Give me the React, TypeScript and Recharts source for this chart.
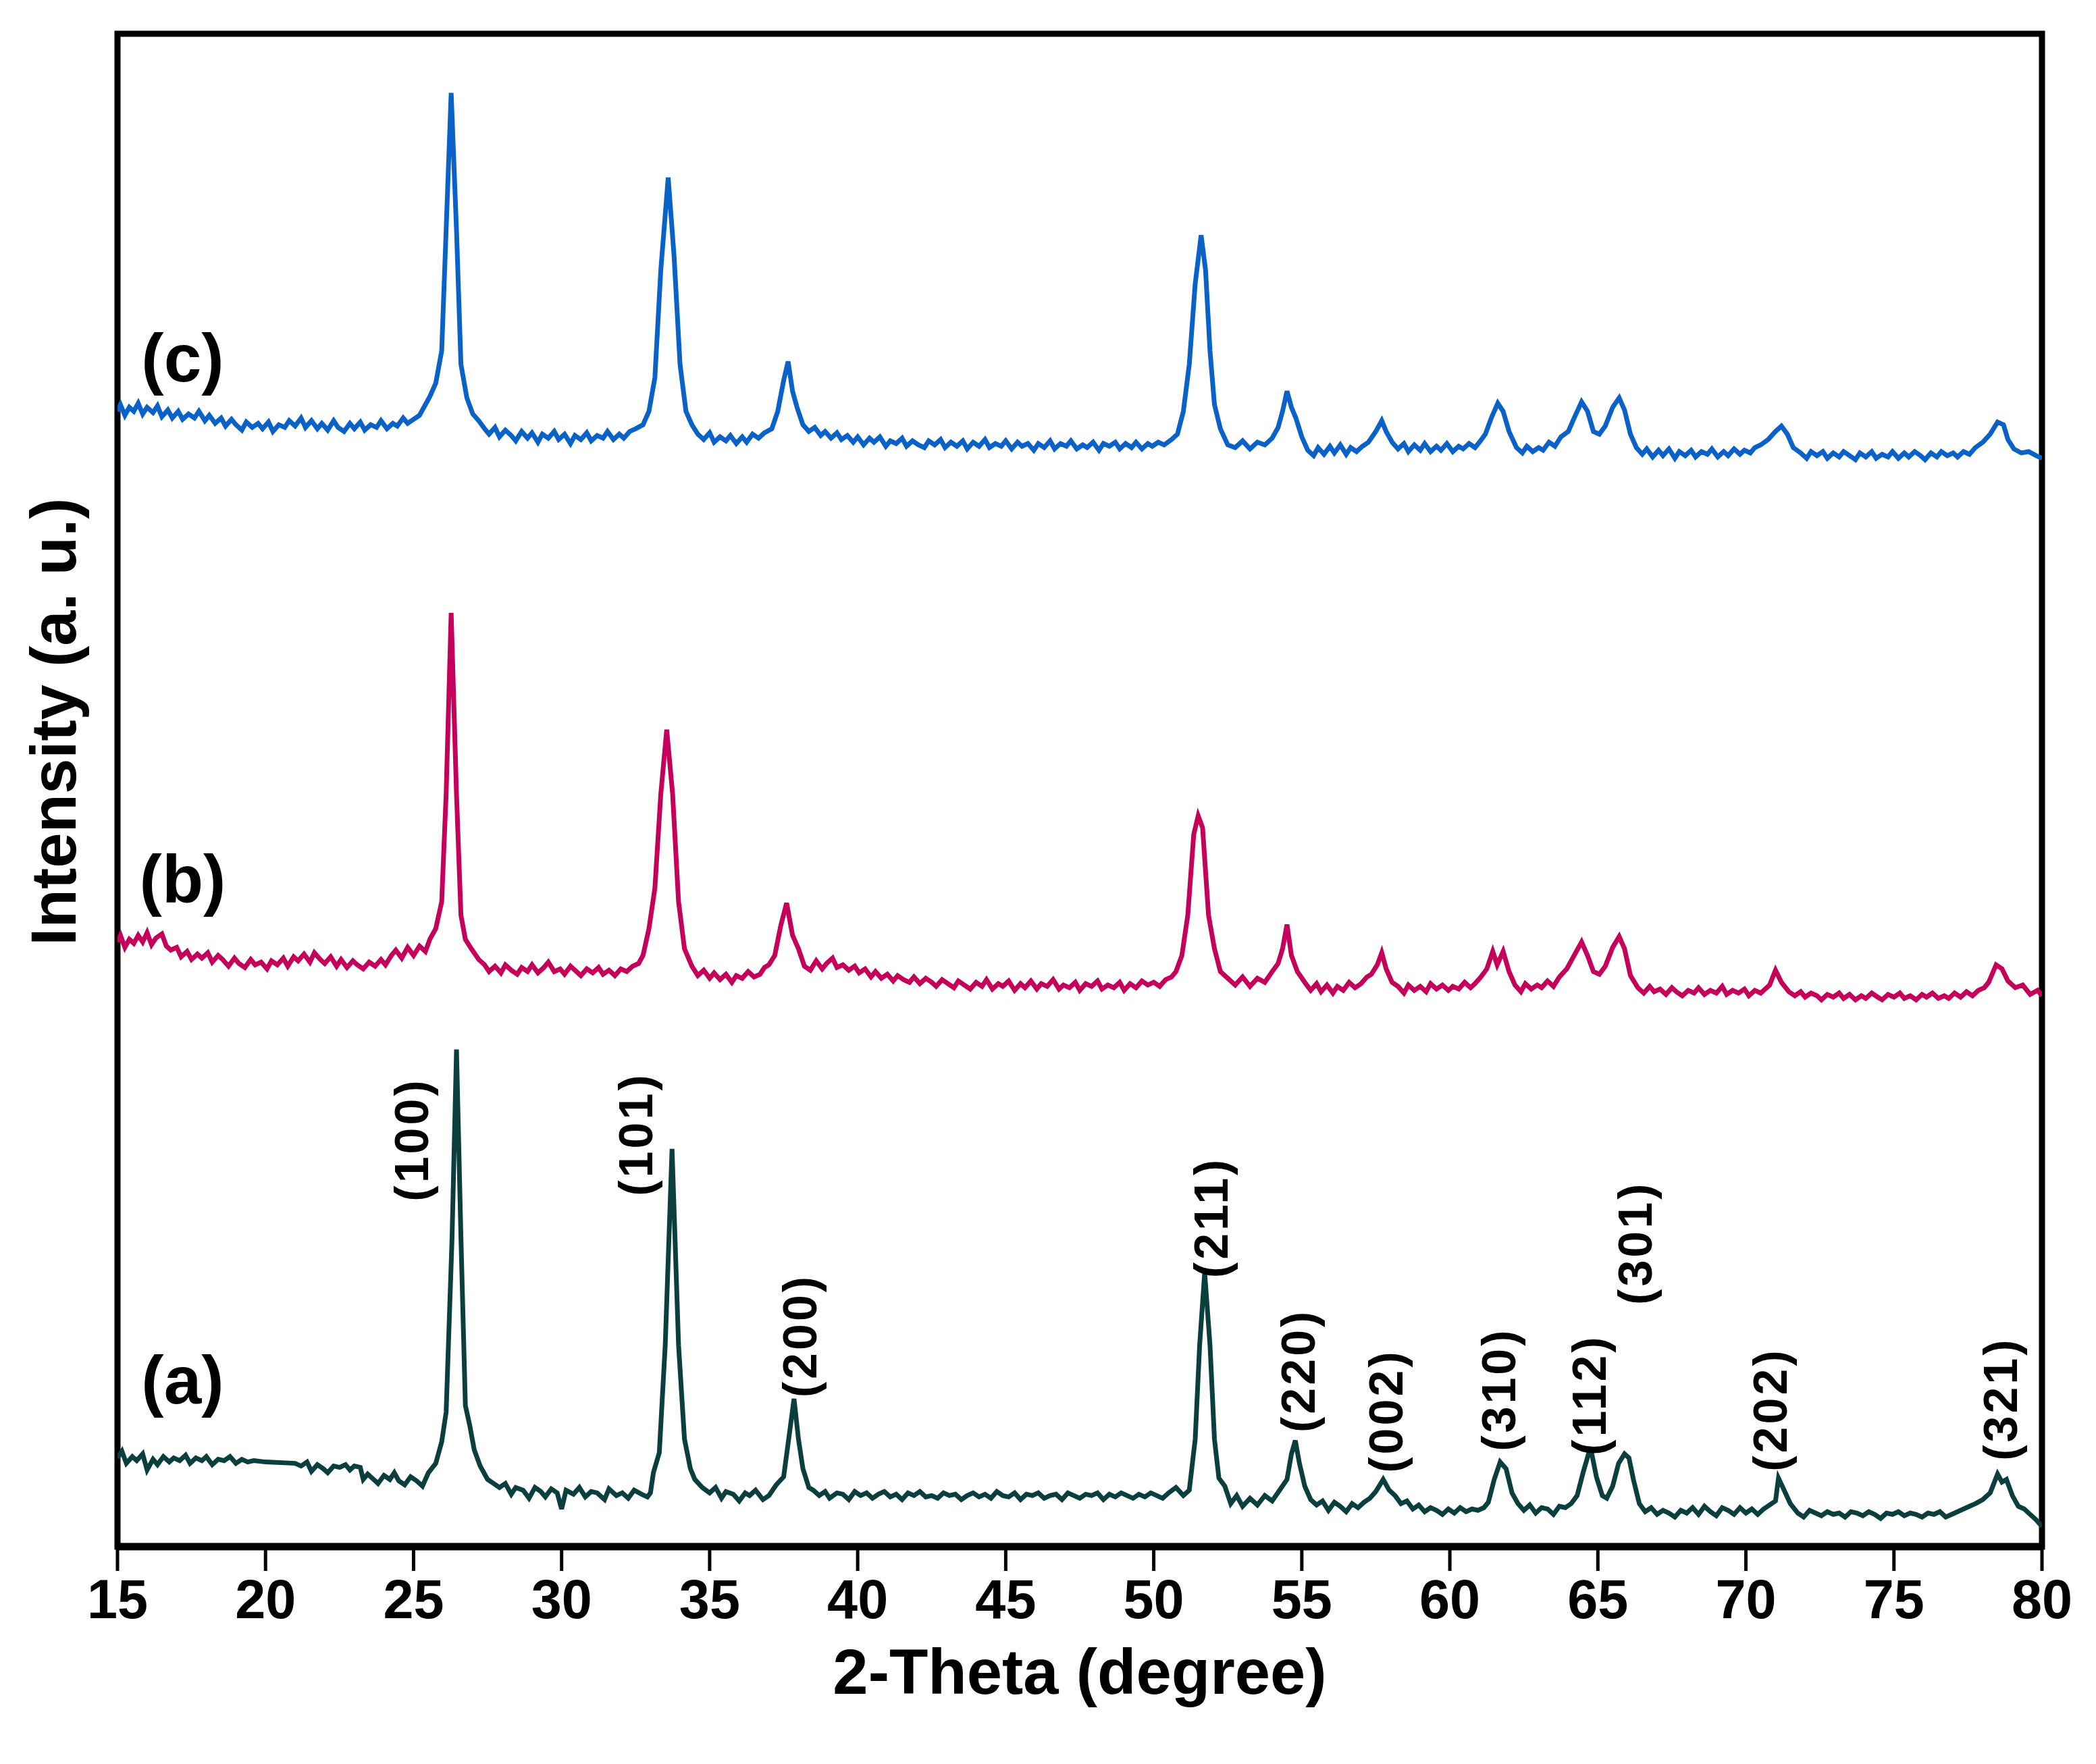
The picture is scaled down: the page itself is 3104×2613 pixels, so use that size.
import React from 'react'
import { LineChart, Line, XAxis, YAxis, ReferenceArea, ReferenceDot } from 'recharts'

// 2-theta ticks on the bottom axis
const TICKS = [15, 20, 25, 30, 35, 40, 45, 50, 55, 60, 65, 70, 75, 80]

// intensity (a. u.), offsets already included: [2-theta, intensity]
const SERIES_A: [number, number][] = [
  [15.0, 66], [15.15, 71], [15.3, 62], [15.5, 67], [15.65, 64], [15.85, 69], [16.0, 57], [16.2, 65], [16.35, 61], [16.55, 67], [16.75, 63], [16.9, 66], [17.1, 64], [17.3, 68], [17.45, 62], [17.65, 66], [17.85, 64], [18.0, 67], [18.2, 61], [18.4, 65], [18.6, 64], [18.8, 67], [19.0, 62], [19.2, 65], [19.4, 63], [19.6, 64],
  [20.0, 63], [21.0, 62], [21.2, 60], [21.4, 63], [21.55, 56], [21.75, 61], [21.95, 58], [22.1, 55], [22.3, 60], [22.5, 59], [22.7, 61], [22.85, 57], [23.0, 60], [23.2, 59], [23.3, 50], [23.45, 54], [23.6, 51], [23.8, 47], [24.0, 53], [24.2, 50], [24.35, 55], [24.5, 49], [24.7, 46], [24.9, 52], [25.1, 49], [25.3, 45],
  [25.5, 55], [25.75, 62], [25.95, 78], [26.1, 100], [26.3, 230], [26.45, 370], [26.6, 230], [26.75, 105], [26.9, 90], [27.05, 72], [27.25, 60], [27.5, 50], [27.7, 47], [27.9, 44], [28.1, 47], [28.3, 39], [28.45, 44], [28.7, 42], [28.9, 36], [29.1, 44], [29.3, 41], [29.45, 37], [29.65, 43], [29.85, 40],
  [30.0, 28], [30.15, 42], [30.4, 39], [30.6, 44], [30.8, 37], [31.0, 41], [31.2, 40], [31.45, 35], [31.6, 43], [31.85, 38], [32.05, 40], [32.25, 36], [32.45, 42], [32.7, 39], [32.9, 37], [33.0, 40], [33.1, 55], [33.3, 70], [33.5, 150], [33.73, 296], [33.95, 150], [34.15, 80], [34.35, 58], [34.5, 50], [34.75, 44],
  [35.0, 40], [35.2, 44], [35.4, 36], [35.55, 41], [35.8, 39], [36.0, 34], [36.2, 40], [36.35, 38], [36.55, 42], [36.8, 35], [37.0, 38], [37.25, 46], [37.5, 52], [37.7, 85], [37.85, 110], [38.0, 80], [38.15, 58], [38.35, 44], [38.5, 42], [38.7, 38], [38.9, 41], [39.05, 36], [39.3, 40], [39.5, 39], [39.7, 35], [39.9, 41],
  [40.1, 38], [40.3, 40], [40.5, 36], [40.7, 39], [40.9, 41], [41.1, 37], [41.3, 39], [41.5, 35], [41.7, 40], [41.9, 38], [42.1, 41], [42.3, 37], [42.5, 38], [42.7, 36], [42.9, 40], [43.1, 38], [43.3, 39], [43.5, 35], [43.7, 38], [43.9, 40], [44.1, 37], [44.3, 39], [44.5, 36], [44.7, 41], [44.9, 38],
  [45.1, 37], [45.3, 40], [45.5, 35], [45.7, 39], [45.9, 38], [46.1, 40], [46.3, 36], [46.5, 38], [46.7, 39], [46.9, 35], [47.1, 40], [47.3, 38], [47.5, 36], [47.7, 39], [47.9, 38], [48.1, 40], [48.3, 35], [48.5, 39], [48.7, 37], [48.9, 40], [49.1, 38], [49.3, 36], [49.5, 39], [49.7, 37], [49.9, 40],
  [50.1, 38], [50.3, 36], [50.5, 40], [50.75, 44], [51.0, 38], [51.2, 42], [51.4, 80], [51.55, 150], [51.72, 204], [51.9, 150], [52.05, 80], [52.2, 51], [52.4, 45], [52.6, 32], [52.8, 38], [53.0, 30], [53.25, 36], [53.5, 31], [53.75, 38], [54.0, 34], [54.25, 42], [54.5, 50], [54.65, 69], [54.78, 79], [54.92, 62],
  [55.1, 45], [55.3, 35], [55.5, 31], [55.7, 34], [55.9, 27], [56.1, 33], [56.3, 30], [56.5, 26], [56.7, 32], [56.9, 29], [57.1, 33], [57.3, 36], [57.5, 41], [57.75, 50], [57.95, 42], [58.15, 38], [58.35, 32], [58.55, 34], [58.75, 28], [58.95, 31], [59.15, 26], [59.35, 29], [59.55, 27], [59.75, 24], [59.95, 28],
  [60.15, 25], [60.35, 29], [60.55, 26], [60.75, 28], [60.95, 27], [61.15, 29], [61.3, 33], [61.5, 50], [61.7, 63], [61.9, 58], [62.1, 40], [62.3, 32], [62.5, 27], [62.7, 31], [62.9, 25], [63.1, 29], [63.3, 28], [63.5, 24], [63.7, 30], [63.9, 29], [64.1, 32], [64.3, 38], [64.5, 55], [64.75, 74], [64.95, 52],
  [65.15, 38], [65.3, 36], [65.5, 45], [65.7, 62], [65.9, 69], [66.05, 66], [66.2, 50], [66.4, 32], [66.6, 26], [66.8, 29], [67.0, 24], [67.2, 27], [67.4, 25], [67.6, 22], [67.8, 27], [68.0, 25], [68.2, 29], [68.4, 24], [68.6, 30], [68.8, 26], [69.0, 23], [69.2, 29], [69.4, 27], [69.6, 24], [69.8, 29],
  [70.0, 25], [70.2, 28], [70.4, 24], [70.6, 28], [70.8, 31], [71.0, 34], [71.1, 51], [71.25, 44], [71.5, 32], [71.75, 25], [71.95, 22], [72.15, 27], [72.35, 25], [72.55, 23], [72.75, 26], [72.95, 24], [73.15, 25], [73.35, 22], [73.55, 26], [73.75, 25], [73.95, 23], [74.15, 26], [74.35, 24], [74.55, 21], [74.75, 25],
  [74.95, 24], [75.15, 26], [75.35, 23], [75.55, 25], [75.75, 24], [75.95, 22], [76.15, 25], [76.35, 24], [76.55, 26], [76.75, 22], [76.95, 24], [77.15, 26], [77.35, 28], [77.55, 30], [77.75, 32], [78.0, 35], [78.25, 40], [78.5, 54], [78.65, 48], [78.8, 50], [79.0, 38], [79.2, 30], [79.4, 28], [79.6, 24], [79.8, 20], [80.0, 15],
]

const SERIES_B: [number, number][] = [
  [15.0, 450], [15.1, 455], [15.25, 446], [15.4, 452], [15.55, 449], [15.7, 455], [15.85, 450], [16.0, 457], [16.15, 448], [16.3, 453], [16.5, 456], [16.65, 447], [16.8, 444], [17.0, 446], [17.15, 439], [17.35, 443], [17.5, 437], [17.7, 441], [17.85, 438], [18.05, 442], [18.2, 435], [18.4, 440], [18.55, 437], [18.75, 432], [18.95, 438],
  [19.1, 434], [19.3, 431], [19.5, 437], [19.65, 433], [19.85, 435], [20.05, 430], [20.2, 436], [20.4, 433], [20.6, 438], [20.75, 432], [20.95, 439], [21.1, 436], [21.3, 441], [21.5, 435], [21.65, 442], [21.85, 437], [22.0, 434], [22.2, 439], [22.4, 432], [22.55, 437], [22.75, 431], [22.95, 436], [23.1, 433], [23.3, 430],
  [23.5, 435], [23.7, 432], [23.9, 437], [24.05, 433], [24.25, 440], [24.4, 444], [24.6, 438], [24.8, 446], [25.0, 440], [25.2, 447], [25.4, 443], [25.55, 452], [25.75, 460], [25.95, 480], [26.1, 560], [26.27, 695], [26.45, 560], [26.6, 470], [26.75, 452], [26.95, 445],
  [27.2, 437], [27.4, 433], [27.55, 428], [27.75, 432], [27.95, 427], [28.1, 433], [28.3, 429], [28.5, 426], [28.65, 431], [28.85, 428], [29.0, 433], [29.2, 427], [29.4, 431], [29.55, 435], [29.75, 428], [29.95, 430], [30.1, 426], [30.3, 432], [30.5, 428], [30.65, 425], [30.85, 430], [31.05, 427], [31.25, 431], [31.4, 426],
  [31.6, 429], [31.8, 425], [32.0, 430], [32.2, 428], [32.4, 432], [32.6, 434], [32.75, 440], [32.95, 460], [33.15, 490], [33.35, 560], [33.55, 608], [33.75, 560], [33.95, 480], [34.15, 445], [34.4, 432], [34.6, 425], [34.8, 429], [35.0, 423], [35.15, 427], [35.35, 422], [35.55, 426], [35.75, 420], [35.9, 425],
  [36.1, 423], [36.3, 428], [36.5, 424], [36.7, 426], [36.85, 431], [37.0, 433], [37.2, 440], [37.4, 462], [37.6, 479], [37.8, 455], [38.0, 445], [38.2, 432], [38.4, 429], [38.6, 436], [38.8, 430], [38.95, 434], [39.15, 438], [39.3, 431], [39.5, 433], [39.7, 429], [39.9, 432],
  [40.05, 427], [40.25, 430], [40.45, 424], [40.6, 428], [40.8, 423], [41.0, 426], [41.2, 421], [41.35, 425], [41.55, 422], [41.75, 420], [41.9, 424], [42.1, 419], [42.3, 423], [42.5, 420], [42.65, 417], [42.85, 422], [43.05, 419], [43.25, 416], [43.4, 421], [43.6, 418], [43.8, 415], [44.0, 420], [44.2, 417], [44.35, 422], [44.55, 415], [44.75, 419], [44.9, 417],
  [45.1, 421], [45.3, 414], [45.5, 419], [45.65, 416], [45.85, 421], [46.05, 415], [46.2, 419], [46.4, 417], [46.6, 422], [46.8, 415], [46.95, 418], [47.15, 416], [47.35, 420], [47.5, 414], [47.7, 419], [47.9, 417], [48.1, 421], [48.25, 415], [48.45, 418], [48.65, 416], [48.85, 420], [49.0, 414], [49.2, 419], [49.4, 416], [49.6, 421], [49.8, 418],
  [50.0, 420], [50.2, 417], [50.4, 422], [50.6, 424], [50.75, 428], [50.95, 440], [51.15, 470], [51.35, 530], [51.5, 544], [51.65, 535], [51.85, 470], [52.05, 445], [52.25, 428], [52.5, 423], [52.75, 418], [53.0, 424], [53.25, 417], [53.5, 423], [53.75, 420], [54.0, 428], [54.2, 434], [54.35, 445], [54.5, 463], [54.65, 440], [54.85, 428],
  [55.1, 420], [55.3, 414], [55.5, 419], [55.65, 413], [55.85, 418], [56.05, 412], [56.2, 417], [56.4, 414], [56.6, 420], [56.8, 416], [57.0, 419], [57.2, 424], [57.35, 426], [57.55, 433], [57.7, 442], [57.85, 430], [58.05, 420], [58.25, 417], [58.45, 412], [58.6, 418], [58.8, 414], [59.0, 417], [59.2, 413], [59.35, 419], [59.55, 415], [59.75, 418], [59.95, 414],
  [60.1, 417], [60.3, 415], [60.5, 420], [60.7, 416], [60.85, 419], [61.05, 424], [61.25, 430], [61.45, 443], [61.6, 433], [61.8, 443], [62.0, 428], [62.2, 418], [62.4, 413], [62.55, 419], [62.75, 415], [62.95, 418], [63.1, 416], [63.3, 421], [63.5, 417], [63.7, 424], [63.95, 430], [64.2, 440], [64.45, 450], [64.65, 440], [64.85, 428],
  [65.05, 426], [65.25, 432], [65.5, 446], [65.72, 454], [65.9, 445], [66.1, 425], [66.35, 416], [66.55, 412], [66.75, 417], [66.9, 413], [67.1, 415], [67.3, 411], [67.5, 416], [67.65, 413], [67.85, 410], [68.05, 414], [68.25, 412], [68.4, 416], [68.6, 411], [68.8, 414], [69.0, 412], [69.2, 417], [69.35, 411], [69.55, 414], [69.75, 412], [69.95, 415],
  [70.1, 410], [70.3, 414], [70.5, 412], [70.65, 415], [70.8, 418], [71.0, 429], [71.2, 420], [71.45, 413], [71.65, 410], [71.85, 413], [72.0, 409], [72.2, 412], [72.4, 410], [72.55, 407], [72.75, 411], [72.95, 409], [73.15, 412], [73.3, 408], [73.5, 411], [73.7, 407], [73.9, 410], [74.05, 408], [74.25, 412], [74.45, 409], [74.6, 407], [74.8, 411],
  [75.0, 409], [75.2, 412], [75.35, 408], [75.55, 410], [75.75, 407], [75.95, 411], [76.1, 409], [76.3, 412], [76.5, 408], [76.7, 410], [76.85, 408], [77.05, 412], [77.25, 409], [77.45, 413], [77.65, 410], [77.85, 414], [78.05, 416], [78.2, 420], [78.45, 433], [78.65, 430], [78.85, 421], [79.1, 416], [79.35, 418], [79.6, 411], [79.85, 414], [80.0, 410],
]

const SERIES_C: [number, number][] = [
  [15.0, 845], [15.1, 850], [15.25, 842], [15.4, 848], [15.55, 845], [15.7, 851], [15.85, 843], [16.0, 848], [16.2, 844], [16.35, 849], [16.5, 841], [16.7, 846], [16.85, 840], [17.05, 845], [17.2, 839], [17.4, 843], [17.6, 840], [17.75, 845], [17.95, 838], [18.1, 842], [18.3, 836], [18.5, 840], [18.65, 834], [18.85, 839], [19.0, 835],
  [19.2, 831], [19.35, 837], [19.55, 833], [19.75, 836], [19.9, 832], [20.1, 837], [20.25, 830], [20.45, 835], [20.65, 833], [20.8, 838], [21.0, 834], [21.2, 840], [21.35, 833], [21.55, 838], [21.75, 832], [21.9, 836], [22.1, 831], [22.3, 838], [22.45, 833], [22.65, 830], [22.85, 836], [23.0, 832], [23.2, 837], [23.35, 831],
  [23.55, 835], [23.75, 833], [23.9, 838], [24.1, 832], [24.3, 836], [24.45, 834], [24.65, 840], [24.8, 836], [25.0, 839], [25.2, 842], [25.4, 850], [25.55, 856], [25.75, 866], [25.95, 890], [26.1, 980], [26.27, 1082], [26.45, 980], [26.6, 880], [26.8, 855], [27.0, 843],
  [27.2, 838], [27.4, 832], [27.55, 828], [27.75, 833], [27.9, 826], [28.1, 831], [28.3, 827], [28.45, 823], [28.65, 830], [28.85, 825], [29.0, 829], [29.2, 822], [29.35, 828], [29.55, 825], [29.75, 830], [29.9, 824], [30.1, 828], [30.3, 821], [30.45, 827], [30.65, 824], [30.85, 829], [31.0, 823], [31.2, 827], [31.4, 825],
  [31.55, 830], [31.75, 824], [31.95, 828], [32.1, 825], [32.3, 830], [32.5, 832], [32.75, 835], [32.95, 845], [33.15, 870], [33.35, 950], [33.6, 1019], [33.8, 960], [34.0, 880], [34.2, 845], [34.4, 835], [34.6, 828], [34.8, 824], [35.0, 829], [35.15, 822], [35.35, 826], [35.55, 823], [35.7, 827], [35.9, 821],
  [36.1, 826], [36.25, 822], [36.45, 828], [36.65, 825], [36.85, 829], [37.1, 832], [37.3, 845], [37.5, 868], [37.65, 882], [37.8, 860], [37.95, 848], [38.15, 835], [38.35, 830], [38.55, 833], [38.75, 827], [38.9, 830], [39.1, 825], [39.3, 829], [39.45, 824], [39.65, 827], [39.85, 822],
  [40.0, 826], [40.2, 820], [40.4, 825], [40.55, 822], [40.75, 826], [40.95, 819], [41.1, 823], [41.3, 821], [41.5, 825], [41.65, 819], [41.85, 823], [42.05, 820], [42.25, 818], [42.4, 823], [42.6, 820], [42.8, 824], [42.95, 818], [43.15, 822], [43.35, 819], [43.55, 823], [43.7, 817], [43.9, 822], [44.1, 819], [44.3, 824], [44.45, 818], [44.65, 821], [44.85, 819],
  [45.0, 823], [45.2, 817], [45.4, 822], [45.55, 819], [45.75, 821], [45.95, 816], [46.1, 821], [46.3, 818], [46.5, 823], [46.65, 817], [46.85, 821], [47.05, 819], [47.2, 823], [47.4, 817], [47.6, 820], [47.75, 818], [47.95, 822], [48.15, 816], [48.3, 821], [48.5, 819], [48.7, 822], [48.85, 817], [49.05, 821], [49.25, 818], [49.4, 822], [49.6, 817], [49.8, 821], [49.95, 819],
  [50.15, 822], [50.35, 820], [50.6, 824], [50.8, 828], [51.0, 845], [51.2, 880], [51.4, 940], [51.6, 976], [51.75, 950], [51.9, 890], [52.05, 850], [52.25, 832], [52.5, 820], [52.75, 818], [53.0, 823], [53.25, 817], [53.5, 822], [53.75, 820], [54.0, 825], [54.2, 833], [54.35, 845], [54.5, 860], [54.65, 848], [54.8, 840],
  [55.0, 826], [55.2, 816], [55.4, 812], [55.55, 818], [55.75, 813], [55.95, 819], [56.1, 814], [56.3, 820], [56.5, 813], [56.65, 818], [56.85, 815], [57.05, 819], [57.25, 822], [57.5, 830], [57.7, 838], [57.85, 830], [58.05, 822], [58.25, 817], [58.45, 821], [58.6, 815], [58.8, 820], [59.0, 816], [59.15, 821], [59.35, 815], [59.55, 819], [59.7, 816], [59.9, 821],
  [60.1, 815], [60.3, 819], [60.45, 817], [60.65, 821], [60.85, 818], [61.0, 822], [61.2, 828], [61.4, 840], [61.62, 851], [61.8, 845], [62.0, 830], [62.25, 818], [62.45, 814], [62.6, 819], [62.8, 815], [63.0, 818], [63.15, 816], [63.35, 822], [63.55, 819], [63.75, 826], [64.0, 830], [64.2, 840], [64.45, 852], [64.65, 845], [64.85, 830],
  [65.05, 828], [65.25, 834], [65.5, 848], [65.72, 855], [65.9, 846], [66.1, 828], [66.3, 818], [66.5, 813], [66.65, 817], [66.85, 811], [67.05, 816], [67.2, 812], [67.4, 817], [67.6, 810], [67.75, 815], [67.95, 812], [68.15, 816], [68.3, 811], [68.5, 815], [68.7, 813], [68.85, 817], [69.05, 811], [69.25, 815], [69.4, 812], [69.6, 817], [69.8, 813], [69.95, 816],
  [70.15, 814], [70.3, 818], [70.5, 820], [70.75, 824], [71.0, 830], [71.2, 834], [71.4, 828], [71.6, 818], [71.85, 814], [72.05, 810], [72.2, 815], [72.4, 812], [72.6, 815], [72.75, 810], [72.95, 814], [73.15, 811], [73.3, 815], [73.5, 812], [73.7, 809], [73.85, 814], [74.05, 811], [74.25, 815], [74.4, 810], [74.6, 813], [74.8, 811], [74.95, 815],
  [75.15, 810], [75.35, 814], [75.5, 811], [75.7, 815], [75.9, 812], [76.05, 809], [76.25, 814], [76.45, 811], [76.6, 815], [76.8, 812], [77.0, 814], [77.15, 811], [77.35, 815], [77.55, 813], [77.75, 818], [78.0, 822], [78.25, 828], [78.5, 837], [78.7, 835], [78.85, 824], [79.05, 817], [79.3, 814], [79.55, 815], [79.8, 812], [80.0, 810],
]

// (hkl) labels: [text, 2-theta, intensity]
const HKL: [string, number, number][] = [
  ['(100)', 24.95, 303],
  ['(101)', 32.51, 307],
  ['(200)', 38.06, 157],
  ['(211)', 51.94, 245],
  ['(220)', 54.89, 131],
  ['(002)', 57.86, 101],
  ['(310)', 61.67, 117],
  ['(112)', 64.73, 113],
  ['(301)', 66.28, 226],
  ['(202)', 70.84, 102],
  ['(321)', 78.61, 110],
]

// sample labels: [text, 2-theta, intensity]
const SAMPLES: [string, number, number][] = [
  ['(c)', 17.2, 885],
  ['(b)', 17.2, 497],
  ['(a)', 17.2, 124],
]

const COLORS = { a: '#0b3f3e', b: '#c4005a', c: '#0a62c8' }

const FONT = '"Liberation Sans", Arial, sans-serif'

const toPoints = (s: [number, number][]) => s.map(([x, y]) => ({ x, y }))

export default function App() {
  return (
    <div style={{ position: 'absolute', left: 0, top: 0, width: 3104, height: 2613, background: '#fff' }}>
      <LineChart width={3104} height={2613} margin={{ top: 50, right: 80, bottom: 212, left: 174 }}>
        <XAxis
          dataKey="x"
          type="number"
          domain={[15, 80]}
          ticks={TICKS}
          allowDataOverflow
          height={110}
          axisLine={{ stroke: '#000', strokeWidth: 11 }}
          tickLine={{ stroke: '#000', strokeWidth: 5 }}
          tickSize={36}
          tickMargin={12}
          tick={{ fontSize: 81, fontWeight: 700, fill: '#000', fontFamily: FONT }}
        />
        <YAxis type="number" domain={[0, 1126]} width={0} tick={false} tickLine={false} axisLine={false} />
        <ReferenceArea x1={15} x2={80} y1={0} y2={1126} fill="none" stroke="#000" strokeWidth={9} ifOverflow="visible" />
        <Line data={toPoints(SERIES_A)} dataKey="y" type="linear" stroke={COLORS.a} strokeWidth={7} dot={false} isAnimationActive={false} />
        <Line data={toPoints(SERIES_B)} dataKey="y" type="linear" stroke={COLORS.b} strokeWidth={7} dot={false} isAnimationActive={false} />
        <Line data={toPoints(SERIES_C)} dataKey="y" type="linear" stroke={COLORS.c} strokeWidth={7} dot={false} isAnimationActive={false} />
        {HKL.map(([label, x, y]) => (
          <ReferenceDot
            key={label}
            x={x}
            y={y}
            r={0}
            ifOverflow="visible"
            shape={(p: any) => (
              <text
                x={p.cx}
                y={p.cy}
                transform={`rotate(-90 ${p.cx} ${p.cy})`}
                textAnchor="middle"
                dominantBaseline="central"
                fontFamily={FONT}
                fontWeight={700}
                fontSize={70}
                letterSpacing={4}
                fill="#000"
              >
                {label}
              </text>
            )}
          />
        ))}
        {SAMPLES.map(([label, x, y]) => (
          <ReferenceDot
            key={label}
            x={x}
            y={y}
            r={0}
            ifOverflow="visible"
            shape={(p: any) => (
              <text
                x={p.cx}
                y={p.cy}
                textAnchor="middle"
                dominantBaseline="central"
                fontFamily={FONT}
                fontWeight={700}
                fontSize={100}
                fill="#000"
              >
                {label}
              </text>
            )}
          />
        ))}
      </LineChart>
      <svg width={3104} height={2613} style={{ position: 'absolute', left: 0, top: 0, pointerEvents: 'none' }}>
        <text x={1599} y={2509} textAnchor="middle" fontFamily={FONT} fontWeight={700} fontSize={94} fill="#000">
          2-Theta (degree)
        </text>
        <text
          x={79}
          y={1069}
          transform="rotate(-90 79 1069)"
          textAnchor="middle"
          dominantBaseline="central"
          fontFamily={FONT}
          fontWeight={700}
          fontSize={94}
          fill="#000"
        >
          Intensity (a. u.)
        </text>
      </svg>
    </div>
  )
}
